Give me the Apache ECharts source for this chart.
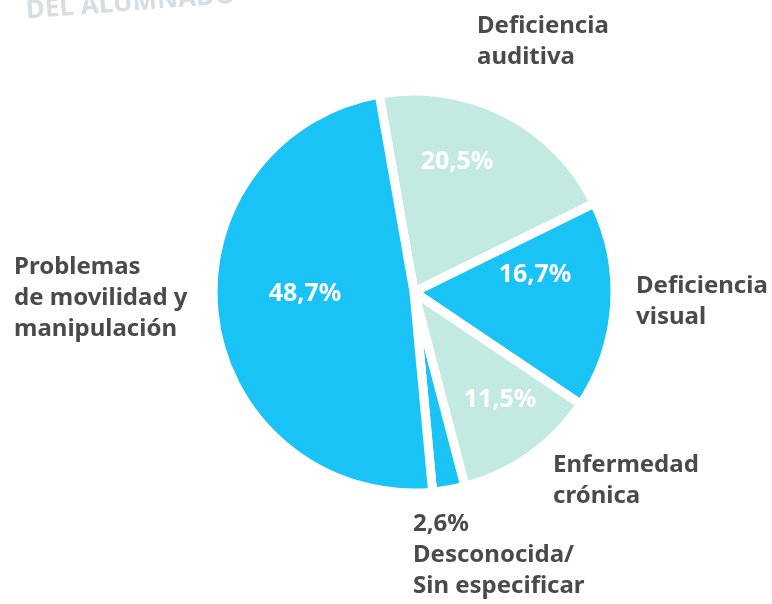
<!DOCTYPE html>
<html>
<head>
<meta charset="utf-8">
<script src="https://cdn.jsdelivr.net/npm/echarts@6/dist/echarts.min.js"></script>
<style>
  html, body { margin: 0; padding: 0; background: #fff; }
  #chart { width: 772px; height: 604px; }
</style>
</head>
<body>
<div id="chart"></div>
<script>
// datos (sentido horario desde arriba)
const categorias = ['Deficiencia\nauditiva', 'Deficiencia\nvisual', 'Enfermedad\ncrónica', 'Desconocida/\nSin especificar', 'Problemas\nde movilidad y\nmanipulación']
const porcentajes = [20.5, 16.7, 11.5, 2.6, 48.7]
const colores = ['#c3eae2', '#19c3f6', '#c3eae2', '#19c3f6', '#19c3f6']
const conValorDentro = [true, true, true, false, true]

// posiciones de las etiquetas
const posDentro = [[457, 162], [535, 275], [500, 400], [0, 0], [305, 294]]
const posFuera = [[477, 11], [636, 271], [553, 450], [413, 509], [14, 252]]

const fmt = v => v.toFixed(1).replace('.', ',') + '%'
const fuente = '"Noto Sans", "Open Sans", sans-serif'

const chart = echarts.init(document.getElementById('chart'))

const datosDentro = categorias.map((c, i) => ({
  name: c,
  value: porcentajes[i],
  itemStyle: { color: colores[i] },
  label: { show: conValorDentro[i] }
}))

const datosFuera = categorias.map((c, i) => ({
  name: c,
  value: porcentajes[i]
}))

chart.setOption({
  animation: false,
  graphic: [
    {
      type: 'text',
      x: 27,
      y: 24,
      rotation: 0.075,
      style: {
        text: 'DEL ALUMNADO',
        font: 'bold 26px "Noto Sans", sans-serif',
        fill: '#d7dee3',
        textVerticalAlign: 'bottom'
      }
    }
  ],
  series: [
    {
      type: 'pie',
      center: [414, 292],
      radius: 201,
      startAngle: 100,
      clockwise: true,
      avoidLabelOverlap: false,
      silent: true,
      itemStyle: { borderColor: '#fff', borderWidth: 9 },
      label: {
        position: 'inside',
        color: '#fff',
        fontFamily: fuente,
        fontWeight: 'bold',
        fontSize: 25,
        formatter: p => fmt(p.value)
      },
      labelLine: { show: false },
      labelLayout: p => ({
        x: posDentro[p.dataIndex][0],
        y: posDentro[p.dataIndex][1],
        align: 'center',
        verticalAlign: 'middle'
      }),
      data: datosDentro
    },
    {
      type: 'pie',
      center: [414, 292],
      radius: 201,
      startAngle: 100,
      clockwise: true,
      avoidLabelOverlap: false,
      silent: true,
      itemStyle: { color: 'rgba(0,0,0,0)', borderWidth: 0 },
      label: {
        position: 'outside',
        color: '#4a4a4a',
        fontFamily: fuente,
        fontWeight: 'bold',
        fontSize: 24,
        lineHeight: 31,
        align: 'left',
        formatter: p => (p.dataIndex === 3 ? fmt(p.value) + '\n' : '') + p.name
      },
      labelLine: { show: false },
      labelLayout: p => ({
        x: posFuera[p.dataIndex][0],
        y: posFuera[p.dataIndex][1],
        align: 'left',
        verticalAlign: 'top'
      }),
      data: datosFuera
    }
  ]
})
</script>
</body>
</html>
